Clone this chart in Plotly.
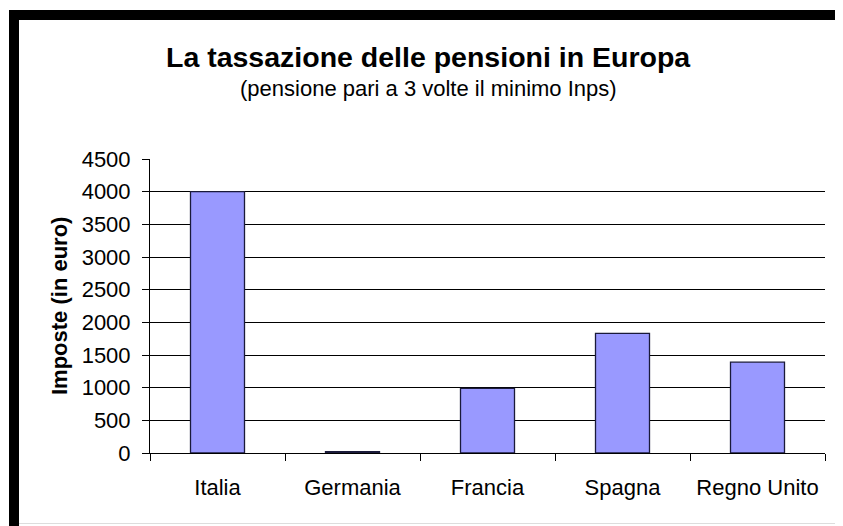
import plotly.graph_objects as go

# data
paesi = ['Italia', 'Germania', 'Francia', 'Spagna', 'Regno Unito']
imposte = [4000, 20, 990, 1830, 1390]
y_ticks = [0, 500, 1000, 1500, 2000, 2500, 3000, 3500, 4000, 4500]

# the page body adds an 8px offset, so the figure is drawn 8px smaller
OFF = 8
W, H = 843 - OFF, 526 - OFF
L, R, T, B = 150 - OFF, 18, 159 - OFF, 73
FONT = "Liberation Sans, Arial, sans-serif"


def px(x):
    # reference pixel x -> paper coordinate
    return (x - OFF - L) / (W - L - R)


def py(y):
    # reference pixel y -> paper coordinate
    return (H - B - (y - OFF)) / (H - T - B)


fig = go.Figure(go.Bar(
    x=paesi,
    y=imposte,
    width=0.4,
    marker=dict(color='#9999FF', line=dict(color='#1a1a3a', width=1.3)),
    showlegend=False,
))

fig.update_layout(
    width=W, height=H,
    margin=dict(l=L, r=R, t=T, b=B),
    paper_bgcolor='white',
    plot_bgcolor='white',
    font=dict(family=FONT, size=22, color='black'),
    bargap=0.6,
)

fig.update_yaxes(
    range=[0, 4500], tickvals=y_ticks,
    showgrid=True, gridcolor='black', gridwidth=1,
    zeroline=False, showline=True, linecolor='black', linewidth=1,
    ticks='outside', ticklen=7, tickcolor='black',
    ticklabelstandoff=7,
    tickfont=dict(size=22),
)
fig.update_xaxes(
    showgrid=False, zeroline=False,
    showline=True, linecolor='black', linewidth=1,
    ticks='outside', ticklen=7, tickcolor='black', tickson='boundaries',
    ticklabelstandoff=15,
    tickfont=dict(size=22),
)

# titles
fig.add_annotation(text='<b>La tassazione delle pensioni in Europa</b>',
                   x=px(428), y=py(57), xref='paper', yref='paper',
                   showarrow=False, font=dict(size=28.5), xanchor='center', yanchor='middle')
fig.add_annotation(text='(pensione pari a 3 volte il minimo Inps)',
                   x=px(428), y=py(88), xref='paper', yref='paper',
                   showarrow=False, font=dict(size=22), xanchor='center', yanchor='middle')
fig.add_annotation(text='<b>Imposte (in euro)</b>', textangle=-90,
                   x=px(59), y=py(306), xref='paper', yref='paper',
                   showarrow=False, font=dict(size=22), xanchor='center', yanchor='middle')

# black frame around the picture
fig.add_shape(type='rect', xref='paper', yref='paper',
              x0=px(9), x1=px(843), y0=py(20), y1=py(10),
              fillcolor='black', line_width=0, layer='above')
fig.add_shape(type='rect', xref='paper', yref='paper',
              x0=px(9), x1=px(19), y0=py(526), y1=py(10),
              fillcolor='black', line_width=0, layer='above')
fig.add_shape(type='line', xref='paper', yref='paper',
              x0=px(840), x1=px(840), y0=py(526), y1=py(20),
              line=dict(color='#555555', width=1.5))
fig.add_shape(type='line', xref='paper', yref='paper',
              x0=px(19), x1=px(840), y0=py(523.5), y1=py(523.5),
              line=dict(color='#dddddd', width=1))

fig.write_html("out.html")
